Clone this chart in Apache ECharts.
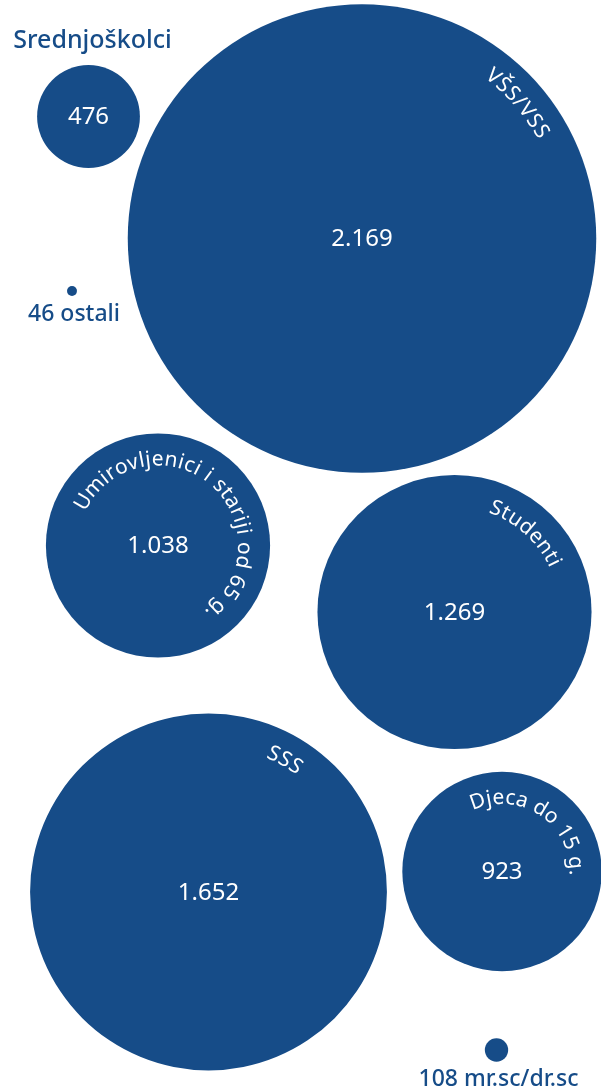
<!DOCTYPE html>
<html>
<head>
<meta charset="utf-8">
<script src="https://cdn.jsdelivr.net/npm/echarts@6/dist/echarts.min.js"></script>
<style>
html,body{margin:0;padding:0;background:#ffffff;}
#main{width:601px;height:1087px;}
</style>
</head>
<body>
<div id="main"></div>
<script>
// ---- data ----
const categories = ['Srednjoškolci', 'VŠS/VSS', 'ostali', 'Umirovljenici i stariji od 65 g.', 'Studenti', 'SSS', 'Djeca do 15 g.', 'mr.sc/dr.sc'];
const values = [476, 2169, 46, 1038, 1269, 1652, 923, 108];
// bubble layout positions (chart units)
const posX = [88.5, 362, 72, 158, 454.5, 208.5, 502, 496.5];
const posY = [116.5, 238.5, 291, 545.5, 612, 892, 871.5, 1050];
// label placement per bubble (layout)
const labelPlacement = ['top', 'arc', 'bottom', 'arc', 'arc', 'arc', 'arc', 'bottom'];
const arcMidAngle = [0, -41, 0, -50, -48, -60, -56, 0];

// ---- styles ----
const COLOR = '#164c88';
const FONT_FAMILY = '"Noto Sans", "Open Sans", sans-serif';
const R_PER_UNIT = 0.108;

const measureCtx = document.createElement('canvas').getContext('2d');
function textWidth(t, font) { measureCtx.font = font; return measureCtx.measureText(t).width; }
function fmt(v) { return String(v).replace(/\B(?=(\d{3})+(?!\d))/g, '.'); }

const chart = echarts.init(document.getElementById('main'), null, { renderer: 'canvas' });
chart.setOption({
  animation: false,
  backgroundColor: '#ffffff',
  grid: { left: 0, right: 0, top: 0, bottom: 0 },
  xAxis: { type: 'value', min: 0, max: 601, show: false },
  yAxis: { type: 'value', min: 0, max: 1087, inverse: true, show: false },
  series: [{
    type: 'custom',
    coordinateSystem: 'cartesian2d',
    data: values.map((v, i) => [posX[i], posY[i], v]),
    renderItem: function (params, api) {
      const i = params.dataIndex;
      const pt = api.coord([api.value(0), api.value(1)]);
      const v = api.value(2);
      const r = v * R_PER_UNIT;
      const cx = pt[0], cy = pt[1];
      const children = [{ type: 'circle', shape: { cx: cx, cy: cy, r: r }, style: { fill: COLOR } }];
      const place = labelPlacement[i];
      if (place !== 'bottom') {
        children.push({
          type: 'text', x: cx, y: cy + 1,
          style: { text: fmt(v), fill: '#ffffff', font: '400 24px ' + FONT_FAMILY, align: 'center', verticalAlign: 'middle' }
        });
      }
      if (place === 'arc') {
        const font = '400 21px ' + FONT_FAMILY;
        const ls = 1.0;
        const chars = Array.from(categories[i]);
        const widths = chars.map(c => textWidth(c, font));
        const total = widths.reduce((a, b) => a + b, 0) + ls * (chars.length - 1);
        const R = r - 26;
        const mid = arcMidAngle[i] * Math.PI / 180;
        let acc = 0;
        chars.forEach((c, k) => {
          const center = acc + widths[k] / 2;
          acc += widths[k] + ls;
          const th = mid + (center - total / 2) / R;
          children.push({
            type: 'text',
            x: cx + R * Math.cos(th),
            y: cy + R * Math.sin(th),
            rotation: -(th + Math.PI / 2),
            style: { text: c, fill: '#ffffff', font: font, align: 'center', verticalAlign: 'middle' }
          });
        });
      } else if (place === 'top') {
        children.push({
          type: 'text', x: cx + 4, y: cy - r - 24,
          style: { text: categories[i], fill: COLOR, font: '500 25px ' + FONT_FAMILY, align: 'center', verticalAlign: 'middle' }
        });
      } else {
        children.push({
          type: 'text', x: cx + 2, y: cy + r + 18,
          style: { text: fmt(v) + ' ' + categories[i], fill: COLOR, font: '500 23px ' + FONT_FAMILY, align: 'center', verticalAlign: 'middle' }
        });
      }
      return { type: 'group', children: children };
    }
  }]
});
</script>
</body>
</html>
